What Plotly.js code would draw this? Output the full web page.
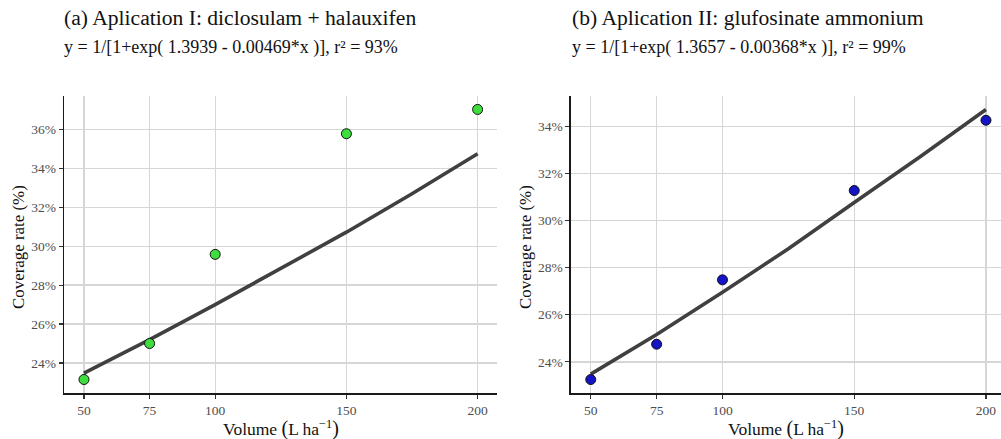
<!DOCTYPE html>
<html>
<head>
<meta charset="utf-8">
<script src="https://cdn.plot.ly/plotly-3.0.1.min.js"></script>
<style>html,body{margin:0;padding:0;background:#fff;}#chart{width:1001px;height:439px;}</style>
</head>
<body>
<div id="chart"></div>
<script>
// Observed data (coverage rate, %)
var volume = [50, 75, 100, 150, 200];
var coverageA = [23.15, 25.0, 29.58, 35.78, 37.03];
var coverageB = [23.25, 24.75, 27.48, 31.27, 34.25];

// Fitted curves
var fitX = [50, 75, 100, 125, 150, 175, 200];
var fitA = [23.48, 25.2, 27.0, 28.85, 30.72, 32.7, 34.75];
var fitB = [23.48, 25.16, 26.95, 28.8, 30.76, 32.7, 34.71];

// Tick labels
var xTicks = [50, 75, 100, 150, 200];
var yTicksA = [24, 26, 28, 30, 32, 34, 36];
var yTicksB = [24, 26, 28, 30, 32, 34];

var titleA = "(a) Aplication I: diclosulam + halauxifen";
var subA = "y = 1/[1+exp( 1.3939 - 0.00469*x )], r² = 93%";
var titleB = "(b) Aplication II: glufosinate ammonium";
var subB = "y = 1/[1+exp( 1.3657 - 0.00368*x )], r² = 99%";
var xTitle = "Volume <span style='font-size:20px'>(</span>L ha<sup>−1</sup><span style='font-size:20px'>)</span>";
var yTitle = "Coverage rate (%)";

var serif = "Liberation Serif";
var lineColor = "#404040";

var traces = [
  {x: fitX, y: fitA, type: "scatter", mode: "lines", line: {color: lineColor, width: 3.6}, xaxis: "x", yaxis: "y", hoverinfo: "skip"},
  {x: volume, y: coverageA, type: "scatter", mode: "markers", marker: {size: 10, color: "#3ede3e", line: {color: "#111", width: 1}}, xaxis: "x", yaxis: "y"},
  {x: fitX, y: fitB, type: "scatter", mode: "lines", line: {color: lineColor, width: 3.6}, xaxis: "x2", yaxis: "y2", hoverinfo: "skip"},
  {x: volume, y: coverageB, type: "scatter", mode: "markers", marker: {size: 10, color: "#1414c4", line: {color: "#111", width: 1}}, xaxis: "x2", yaxis: "y2"}
];

function xax(domain, range) {
  return {
    domain: domain, range: range, tickmode: "array", tickvals: xTicks, ticktext: xTicks.map(String),
    showgrid: true, gridcolor: "#d6d6d6", gridwidth: 1.3, zeroline: false,
    showline: true, linecolor: "#1a1a1a", linewidth: 1.6,
    ticks: "outside", ticklen: 4, tickcolor: "#333", tickwidth: 1.2,
    tickfont: {family: serif, size: 13.5, color: "#4d4d4d"}
  };
}
function yax(domain, range, ticks, anchor) {
  return {
    domain: domain, range: range, tickmode: "array", tickvals: ticks,
    ticktext: ticks.map(function (v) { return v + "%"; }), anchor: anchor,
    showgrid: true, gridcolor: "#d6d6d6", gridwidth: 1.3, zeroline: false,
    showline: true, linecolor: "#1a1a1a", linewidth: 1.6,
    ticks: "outside", ticklen: 4, tickcolor: "#333", tickwidth: 1.2,
    tickfont: {family: serif, size: 13.5, color: "#4d4d4d"}
  };
}

var H = 439, W = 1001;
var yDom = [(H - 393) / H, (H - 96) / H];

var layout = {
  width: W, height: H,
  margin: {l: 0, r: 0, t: 0, b: 0, pad: 0},
  paper_bgcolor: "#fff", plot_bgcolor: "#fff",
  showlegend: false,
  font: {family: serif},
  xaxis: Object.assign(xax([64.3 / W, 497.3 / W], [42.5, 207.5]), {anchor: "y"}),
  yaxis: yax(yDom, [22.456, 37.72], yTicksA, "x"),
  xaxis2: Object.assign(xax([571 / W, 1], [42.5, 205.7]), {anchor: "y2"}),
  yaxis2: yax(yDom, [22.68, 35.28], yTicksB, "x2"),
  annotations: [
    {text: titleA, xref: "paper", yref: "paper", x: 62 / W, y: 1 - 18 / H, xanchor: "left", yanchor: "middle", showarrow: false, font: {family: serif, size: 21.6, color: "#111"}},
    {text: subA, xref: "paper", yref: "paper", x: 62 / W, y: 1 - 47 / H, xanchor: "left", yanchor: "middle", showarrow: false, font: {family: serif, size: 18, color: "#111"}},
    {text: titleB, xref: "paper", yref: "paper", x: 570 / W, y: 1 - 18 / H, xanchor: "left", yanchor: "middle", showarrow: false, font: {family: serif, size: 21.6, color: "#111"}},
    {text: subB, xref: "paper", yref: "paper", x: 570 / W, y: 1 - 47 / H, xanchor: "left", yanchor: "middle", showarrow: false, font: {family: serif, size: 18, color: "#111"}},
    {text: xTitle, xref: "paper", yref: "paper", x: 280.8 / W, y: 1 - 428 / H, xanchor: "center", yanchor: "middle", showarrow: false, font: {family: serif, size: 17.5, color: "#111"}},
    {text: xTitle, xref: "paper", yref: "paper", x: 786 / W, y: 1 - 428 / H, xanchor: "center", yanchor: "middle", showarrow: false, font: {family: serif, size: 17.5, color: "#111"}},
    {text: yTitle, xref: "paper", yref: "paper", x: 18 / W, y: 1 - 247 / H, xanchor: "center", yanchor: "middle", textangle: -90, showarrow: false, font: {family: serif, size: 16.9, color: "#111"}},
    {text: yTitle, xref: "paper", yref: "paper", x: 525 / W, y: 1 - 247 / H, xanchor: "center", yanchor: "middle", textangle: -90, showarrow: false, font: {family: serif, size: 16.9, color: "#111"}}
  ]
};

Plotly.newPlot("chart", traces, layout, {displayModeBar: false, staticPlot: true});
</script>
</body>
</html>
